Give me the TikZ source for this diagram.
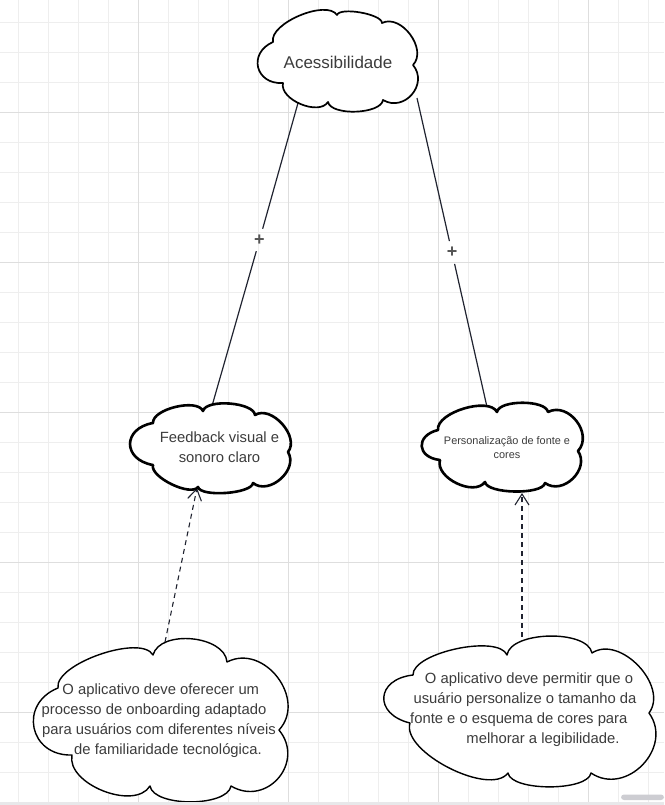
\documentclass[tikz,border=0pt]{standalone}
\usepackage{fontspec}
\setmainfont{Liberation Sans}
\usetikzlibrary{arrows.meta}

\definecolor{gridminor}{RGB}{238,238,238}
\definecolor{gridmajor}{RGB}{222,222,222}
\definecolor{inkline}{RGB}{32,35,48}
\definecolor{labeltext}{RGB}{60,60,60}
\definecolor{plusgray}{RGB}{85,85,85}
\definecolor{barband}{RGB}{232,232,234}
\definecolor{barpill}{RGB}{205,205,210}

\tikzset{
  bmp/.style={bend left=80, looseness=#1},
  cloud outline/.style={draw=black, fill=white, line join=round},
  thin cloud/.style={cloud outline, line width=1.4pt},
  mid cloud/.style={cloud outline, line width=1.7pt},
  thick cloud/.style={cloud outline, line width=2.6pt},
  cloudtext/.style={text=labeltext, align=center, inner sep=0pt},
  link/.style={draw=inkline, line width=1.2pt},
  plus/.style={text=plusgray, font=\fontsize{18}{18}\selectfont\bfseries, inner sep=0pt, minimum size=23pt, circle},
  depends/.style={draw=inkline, line width=1.1pt, dash pattern=on 5pt off 4pt,
    -{Straight Barb[length=11pt,width=14pt]}},
}

\begin{document}
\begin{tikzpicture}[x=1pt,y=-1pt]
\useasboundingbox (0,0) rectangle (664,805);

% background grid
\foreach \gx in {0,...,21} \draw[gridminor, line width=1pt] (18.3+30*\gx,0) -- (18.3+30*\gx,805);
\foreach \gy in {0,...,26} \draw[gridminor, line width=1pt] (0,22.3+30*\gy) -- (664,22.3+30*\gy);
\foreach \gx in {138.3,288.3,438.3,588.3} \draw[gridmajor, line width=1pt] (\gx,0) -- (\gx,805);
\foreach \gy in {112.3,262.3,412.3,562.3,712.3} \draw[gridmajor, line width=1pt] (0,\gy) -- (664,\gy);

% attachment points on the cloud outlines
\coordinate (accSW) at (298,103);
\coordinate (accSE) at (417,98);
\coordinate (fbN) at (212,406);
\coordinate (fbS) at (197,488);
\coordinate (persN) at (487,407);
\coordinate (persS) at (522,493);
\coordinate (onbN) at (165,642);
\coordinate (legN) at (522,637);

% composition links with their "+" marks
\node[plus] (plusL) at (259.5,240) {+};
\node[plus] (plusR) at (452,252.5) {+};
\draw[link] (accSW) -- (plusL) -- (fbN);
\draw[link] (accSE) -- (plusR) -- (persN);

% dependency arrows
\draw[depends] (onbN) -- (fbS);
\draw[depends] (legN) -- (persS);

% clouds
\path[mid cloud] (273,42) to[bmp=0.7] (337,15) to[bmp=0.5] (382,23) to[bmp=1.05] (413,65)
  to[bmp=1.38] (383,100) to[bmp=0.67] (328,102) to[bmp=0.89] (283,83) to[bmp=1.68] (273,42) -- cycle;
\path[thick cloud] (153,423) to[bmp=0.7] (203,411) to[bmp=0.63] (255,415) to[bmp=1.0] (288,452)
  to[bmp=1.13] (253,483) to[bmp=0.5] (198,487) to[bmp=0.63] (153,465) to[bmp=1.9] (153,423) -- cycle;
\path[thick cloud] (438,430) to[bmp=0.73] (497,412) to[bmp=0.63] (548,412) to[bmp=1.2] (578,451)
  to[bmp=1.22] (545,483) to[bmp=0.52] (485,482) to[bmp=0.94] (440,460) to[bmp=2.0] (438,430) -- cycle;
\path[thin cloud] (58,688) to[bmp=0.62] (153,655) to[bmp=0.92] (227,662) to[bmp=1.25] (279,730)
  to[bmp=1.45] (231,786) to[bmp=0.68] (150,786) to[bmp=0.9] (72,755) to[bmp=1.6] (58,688) -- cycle;
\path[thin cloud] (413,675) to[bmp=0.6] (507,655) to[bmp=0.73] (592,653) to[bmp=1.04] (649,713)
  to[bmp=1.3] (591,773) to[bmp=0.58] (508,773) to[bmp=0.7] (410,723) to[bmp=2.0] (413,675) -- cycle;

% cloud texts
\node[cloudtext, font=\fontsize{17}{20}\selectfont] (acc) at (338,62) {Acessibilidade};
\node[cloudtext, font=\fontsize{14.8}{20}\selectfont] (fb) at (219.5,447.5) {Feedback visual e\\sonoro claro};
\node[cloudtext, font=\fontsize{10.9}{14.3}\selectfont] (pers) at (507,447.5) {Personalização de fonte e\\cores};
\node[cloudtext, font=\fontsize{14.8}{20}\selectfont] (onb) at (158,721)
  {\rule{5.6pt}{0pt}O aplicativo deve oferecer um\\
   processo de onboarding adaptado\rule{8pt}{0pt}\\
   \rule{2pt}{0pt}para usuários com diferentes níveis\\
   \rule{20pt}{0pt}de familiaridade tecnológica.};
\node[cloudtext, font=\fontsize{14.8}{20}\selectfont] (leg) at (527,710)
  {\rule{4pt}{0pt}O aplicativo deve permitir que o\\
   usuário personalize o tamanho da\rule{4pt}{0pt}\\
   fonte e o esquema de cores para\rule{16.4pt}{0pt}\\
   \rule{32pt}{0pt}melhorar a legibilidade.};

% scroll strip along the lower edge
\fill[barband] (0,801.5) rectangle (664,805);
\fill[barpill, rounded corners=3pt] (621,794.5) rectangle (664,800);
\end{tikzpicture}
\end{document}
